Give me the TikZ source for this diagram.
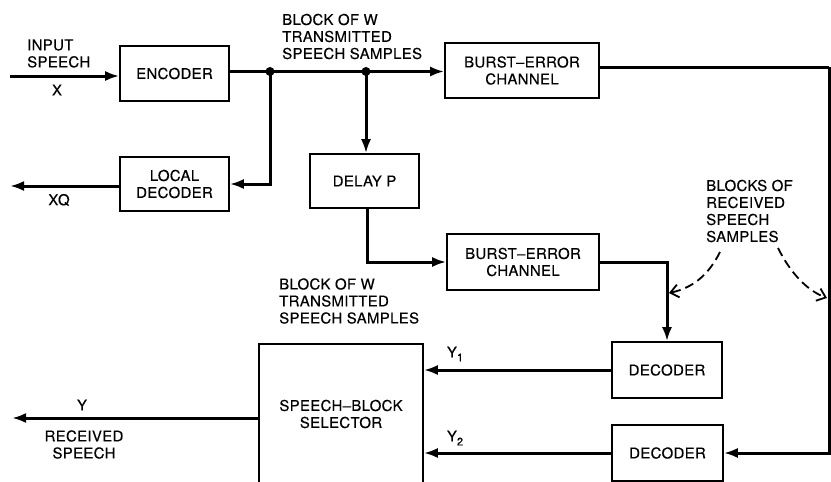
\documentclass[tikz,border=0pt]{standalone}
\usepackage{fontspec}
\setmainfont[LetterSpace=2,FakeBold=0.3]{TeX Gyre Heros}
\usetikzlibrary{arrows.meta}
\begin{document}
\begin{tikzpicture}[x=1pt,y=-1pt,
  box/.style={draw,line width=1.6pt,inner sep=0pt,align=center,font=\fontsize{15}{17}\selectfont},
  lbl/.style={inner sep=0pt,font=\fontsize{15}{17}\selectfont},
  wire/.style={line width=3pt},
  arr/.style={wire,-{Latex[length=14pt,width=10pt]}},
  dsh/.style={line width=1.8pt,dash pattern=on 9pt off 5pt,-{Straight Barb[length=8pt,width=13pt,line width=1.8pt]}}]
\clip (0,0) rectangle (831,482);
\useasboundingbox (0,0) rectangle (831,482);
% boxes
\node[box,minimum width=109pt,minimum height=55pt] (enc) at (174.5,73.5) {ENCODER};
\node[box,minimum width=109pt,minimum height=54pt] (loc) at (174.5,184) {LOCAL\\DECODER};
\node[box,minimum width=109pt,minimum height=54pt] (del) at (364.5,181) {DELAY P};
\node[box,minimum width=154pt,minimum height=55pt] (bec1) at (522,70.5) {BURST--ERROR\\CHANNEL};
\node[box,minimum width=152pt,minimum height=56pt] (bec2) at (523,262) {BURST--ERROR\\CHANNEL};
\node[box,minimum width=110pt,minimum height=56pt] (dec1) at (667,370) {DECODER};
\node[box,minimum width=111pt,minimum height=56pt] (dec2) at (667.5,453) {DECODER};
\node[box,minimum width=164pt,minimum height=140pt] (sel) at (341,414) {SPEECH--BLOCK\\SELECTOR};
% coordinates
\coordinate (in) at (10,76);
\coordinate (xq) at (10,186);
\coordinate (yout) at (12,418);
\coordinate (j1) at (270,71.5);
\coordinate (j2) at (366,71.5);
\coordinate (r) at (829,67);
% labels
\node[lbl,anchor=west,align=left] (inlab) at (27,53.5) {INPUT\\SPEECH};
\node[lbl] (xlab) at (57,90) {X};
\node[lbl] (xqlab) at (59,200) {XQ};
\node[lbl,anchor=west,align=left] (top) at (282,36.5) {BLOCK OF W\\TRANSMITTED\\SPEECH SAMPLES};
\node[lbl,anchor=west,align=left] (mid) at (279,301) {BLOCK OF W\\TRANSMITTED\\SPEECH SAMPLES};
\node[lbl,anchor=west,align=left] (blocks) at (706,211) {BLOCKS OF\\RECEIVED\\SPEECH\\SAMPLES};
\node[lbl] (ylab) at (82,405) {Y};
\node[lbl,align=center] (rs) at (84,444.5) {RECEIVED\\SPEECH};
\node[lbl] (y1) at (455,354) {Y\raisebox{-4pt}{\fontsize{11}{11}\selectfont 1}};
\node[lbl] (y2) at (455,438) {Y\raisebox{-4pt}{\fontsize{11}{11}\selectfont 2}};
% connectors
\draw[arr] (in) -- (in -| enc.west);
\draw[wire] (enc.east |- j1) -- (j1) -- (j2);
\draw[arr] (j2) -- (j2 -| bec1.west);
\draw[arr] (j1) |- (loc.east);
\draw[arr] (loc.west |- xq) -- (xq);
\draw[arr] (j2) -- (j2 |- del.north);
\draw[arr] ([xshift=2.5pt]del.south) |- (bec2.west);
\draw[arr] (bec2.east) -| (dec1.north);
\draw[wire] (bec1.east |- r) -- (r);
\draw[arr] (r) |- (dec2.east);
\draw[arr] (dec1.west) -- (dec1.west -| sel.east);
\draw[arr] (dec2.west) -- (dec2.west -| sel.east);
\draw[arr] (sel.west |- yout) -- (yout);
\fill (j1) circle[radius=4.5pt];
\fill (j2) circle[radius=4.5pt];
% dashed
\coordinate (d1s) at (720,252);
\coordinate (d1e) at (669,293);
\coordinate (d2s) at (778,248);
\coordinate (d2e) at (827,298);
\draw[dsh] (d1s) .. controls (708,276) and (692,288) .. (d1e);
\draw[dsh] (d2s) .. controls (790,272) and (806,290) .. (d2e);
\end{tikzpicture}
\end{document}
